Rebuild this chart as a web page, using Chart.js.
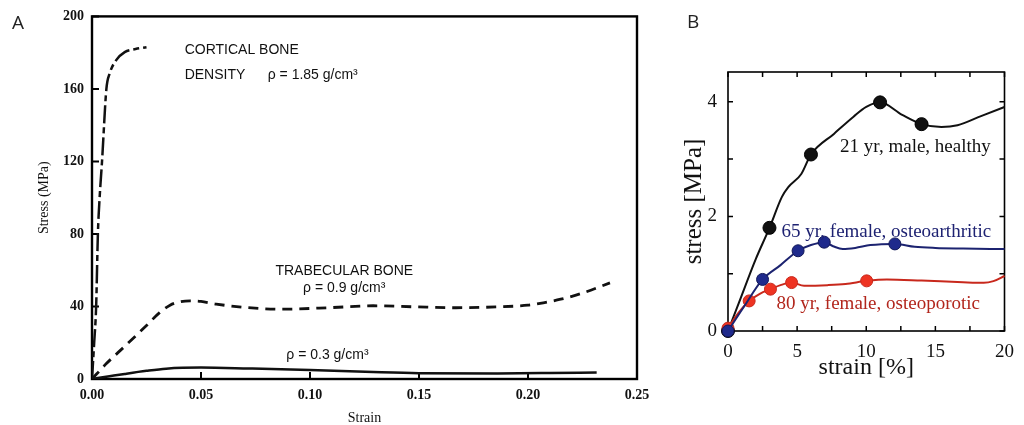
<!DOCTYPE html>
<html>
<head>
<meta charset="utf-8">
<script src="https://cdn.jsdelivr.net/npm/chart.js@4.4.1/dist/chart.umd.min.js"></script>
<style>
  body { margin: 0; background: #fff; width: 1024px; height: 425px; overflow: hidden; position: relative; }
  .panel { position: absolute; top: 0; height: 425px; }
  #wrapA { left: 0; width: 670px; }
  #wrapB { left: 670px; width: 354px; }
  .tag { position: absolute; font-family: "Open Sans", sans-serif; font-size: 19px; line-height: 19px; color: #222; }
</style>
</head>
<body>
<div id="wrapA" class="panel"><canvas id="chartA"></canvas></div>
<div id="wrapB" class="panel"><canvas id="chartB"></canvas></div>
<div class="tag" style="left:12px;top:13px">A</div>
<div class="tag" style="left:687px;top:12px">B</div>

<script>
// ---- Panel A: bone stress-strain (strain, MPa) ----
const corticalStrain = [0, 0.0010, 0.0019, 0.0027, 0.0035, 0.0046, 0.0066, 0.0081, 0.0112, 0.015, 0.020, 0.025];
const corticalStress = [0, 20, 40, 80, 100, 120, 160, 168.5, 176, 180.3, 182, 183];

const trab09Strain = [0, 0.0066, 0.015, 0.025, 0.031, 0.0358, 0.040, 0.045, 0.050, 0.057, 0.070, 0.087, 0.110, 0.129, 0.148, 0.167, 0.186, 0.200, 0.207, 0.215, 0.224, 0.2376];
const trab09Stress = [0, 8.5, 18, 29.5, 36.6, 40.7, 42.5, 43.1, 42.8, 41.3, 39.5, 38.5, 39.4, 40.4, 39.8, 39.3, 39.8, 40.7, 42, 44, 47, 53];

const trab03Strain = [0, 0.008, 0.015, 0.025, 0.034, 0.05, 0.072, 0.1, 0.129, 0.15, 0.186, 0.21, 0.2315];
const trab03Stress = [0, 1.5, 2.8, 4.5, 5.7, 6.3, 5.8, 5, 3.8, 3.2, 3.1, 3.3, 3.6];

// ---- Panel B: trabecular samples (strain %, MPa) ----
const healthyStrain = [0, 0.8, 2, 3, 3.9, 4.36, 5.3, 6, 7.66, 9.08, 10, 11, 12.6, 14, 15.44, 16.6, 18.3, 20];
const healthyStress = [0, 0.5, 1.25, 1.8, 2.34, 2.51, 2.74, 3.08, 3.44, 3.74, 3.91, 3.99, 3.77, 3.61, 3.56, 3.59, 3.75, 3.91];
const healthyDotStrain = [0, 3, 6, 11, 14];
const healthyDotStress = [0, 1.8, 3.08, 3.99, 3.61];

const arthriticStrain = [0, 1.2, 2.5, 3.8, 5.07, 6, 6.96, 7.6, 8.3, 9.2, 10.3, 12.07, 13.5, 15, 17, 20];
const arthriticStress = [0, 0.44, 0.9, 1.15, 1.40, 1.50, 1.55, 1.48, 1.43, 1.45, 1.50, 1.52, 1.47, 1.45, 1.44, 1.43];
const arthriticDotStrain = [0, 2.5, 5.07, 6.96, 12.07];
const arthriticDotStress = [0, 0.9, 1.40, 1.55, 1.52];

const porosisStrain = [0, 0.7, 1.53, 2.3, 3.07, 3.8, 4.6, 5.5, 7.2, 8.5, 10.03, 11.5, 14, 17, 18.5, 19.2, 20];
const porosisStress = [0.05, 0.3, 0.525, 0.65, 0.73, 0.8, 0.845, 0.79, 0.80, 0.82, 0.875, 0.9, 0.88, 0.85, 0.84, 0.87, 0.96];
const porosisDotStrain = [0, 1.53, 3.07, 4.6, 10.03];
const porosisDotStress = [0.05, 0.525, 0.73, 0.845, 0.875];

const xy = (xs, ys) => xs.map((x, i) => ({ x, y: ys[i] }));

const SERIF = '"Liberation Serif", "Times New Roman", serif';
const SANS = '"Liberation Sans", Arial, sans-serif';

// box frame plus inward tick marks
const frameTicks = {
  id: 'frameTicks',
  beforeDatasetsDraw(chart, args, opts) {
    const { ctx, chartArea: a } = chart;
    const xs = chart.scales.x, ys = chart.scales.y;
    ctx.save();
    ctx.strokeStyle = '#000';
    ctx.lineWidth = opts.tickWidth;
    ctx.beginPath();
    for (let v = xs.min; v <= xs.max + 1e-9; v += opts.xStep) {
      const px = xs.getPixelForValue(v);
      ctx.moveTo(px, a.bottom); ctx.lineTo(px, a.bottom - opts.len);
      if (opts.allSides) { ctx.moveTo(px, a.top); ctx.lineTo(px, a.top + opts.len); }
    }
    for (let v = ys.min; v <= ys.max + 1e-9; v += opts.yStep) {
      const py = ys.getPixelForValue(v);
      ctx.moveTo(a.left, py); ctx.lineTo(a.left + opts.len, py);
      if (opts.allSides) { ctx.moveTo(a.right, py); ctx.lineTo(a.right - opts.len, py); }
    }
    ctx.stroke();
    ctx.lineWidth = opts.frameWidth;
    ctx.strokeRect(a.left, a.top, a.right - a.left, a.bottom - a.top);
    ctx.restore();
  }
};

// text labels placed in data coordinates
const notes = {
  id: 'notes',
  afterDatasetsDraw(chart, args, opts) {
    const { ctx } = chart;
    const xs = chart.scales.x, ys = chart.scales.y;
    ctx.save();
    ctx.textBaseline = 'middle';
    opts.items.forEach(n => {
      ctx.font = n.font || opts.font;
      ctx.fillStyle = n.color || opts.color;
      ctx.textAlign = n.align || 'left';
      ctx.fillText(n.text, xs.getPixelForValue(n.x), ys.getPixelForValue(n.y));
    });
    ctx.restore();
  }
};

const noGrid = { display: false, drawTicks: false };

// ---------- Panel A ----------
new Chart(document.getElementById('chartA'), {
  type: 'scatter',
  data: {
    datasets: [
      {
        data: xy(corticalStrain, corticalStress),
        showLine: true, borderColor: '#111', borderWidth: 2.5,
        borderDash: [18, 4, 6, 4], pointRadius: 0, cubicInterpolationMode: 'monotone'
      },
      {
        data: xy(trab09Strain, trab09Stress),
        showLine: true, borderColor: '#111', borderWidth: 2.8,
        borderDash: [10, 7], pointRadius: 0, cubicInterpolationMode: 'monotone'
      },
      {
        data: xy(trab03Strain, trab03Stress),
        showLine: true, borderColor: '#111', borderWidth: 2.5,
        pointRadius: 0, cubicInterpolationMode: 'monotone'
      }
    ]
  },
  plugins: [frameTicks, notes],
  options: {
    responsive: true,
    maintainAspectRatio: false,
    animation: false,
    layout: { padding: { top: 12, right: 33, left: 0, bottom: 0 } },
    scales: {
      x: {
        type: 'linear', min: 0, max: 0.25,
        grid: noGrid, border: { display: false },
        ticks: {
          stepSize: 0.05, padding: 8, color: '#111', maxRotation: 0,
          font: { family: SERIF, size: 14, weight: 'bold' },
          callback: v => v.toFixed(2)
        },
        title: { display: true, text: 'Strain', color: '#111', padding: { top: 0, bottom: 0 },
                 font: { family: SERIF, size: 14, lineHeight: 1 } },
        afterFit: s => { s.height = 46; }
      },
      y: {
        min: 0, max: 200,
        grid: noGrid, border: { display: false },
        ticks: { stepSize: 40, padding: 8, color: '#111', font: { family: SERIF, size: 14, weight: 'bold' } },
        title: { display: true, text: 'Stress (MPa)', color: '#111', padding: { top: 37, bottom: 0 },
                 font: { family: SERIF, size: 14, lineHeight: 1 } },
        afterFit: s => { s.width = 92; }
      }
    },
    plugins: {
      legend: { display: false },
      tooltip: { enabled: false },
      frameTicks: { xStep: 0.05, yStep: 40, len: 7, tickWidth: 2, frameWidth: 2.4, allSides: false },
      notes: {
        font: '14px ' + SANS, color: '#111',
        items: [
          { text: 'CORTICAL BONE', x: 0.0425, y: 181.6 },
          { text: 'DENSITY', x: 0.0425, y: 167.4 },
          { text: 'ρ = 1.85 g/cm³', x: 0.0806, y: 167.4 },
          { text: 'TRABECULAR BONE', x: 0.1157, y: 59.6, align: 'center' },
          { text: 'ρ = 0.9 g/cm³', x: 0.1157, y: 49.9, align: 'center' },
          { text: 'ρ = 0.3 g/cm³', x: 0.108, y: 13, align: 'center' }
        ]
      }
    }
  }
});

// ---------- Panel B ----------
const BLACK = '#111111';
const NAVY = '#1c2370';
const NAVY_DOT = '#1f2a8c';
const RED = '#c8281c';
const RED_DOT = '#ee3322';

const lineSet = (xs, ys, color) => ({
  data: xy(xs, ys), showLine: true, borderColor: color, borderWidth: 2,
  pointRadius: 0, cubicInterpolationMode: 'monotone', clip: false
});
const dotSet = (xs, ys, fill, edge, r) => ({
  data: xy(xs, ys), showLine: false, pointRadius: r, pointBackgroundColor: fill,
  pointBorderColor: edge, pointBorderWidth: 1, clip: false
});

new Chart(document.getElementById('chartB'), {
  type: 'scatter',
  data: {
    datasets: [
      dotSet(arthriticDotStrain, arthriticDotStress, NAVY_DOT, '#121858', 6),
      lineSet(arthriticStrain, arthriticStress, NAVY),
      dotSet(porosisDotStrain, porosisDotStress, RED_DOT, '#c8281c', 6),
      lineSet(porosisStrain, porosisStress, RED),
      dotSet(healthyDotStrain, healthyDotStress, BLACK, '#000', 6.5),
      lineSet(healthyStrain, healthyStress, BLACK)
    ]
  },
  plugins: [frameTicks, notes],
  options: {
    responsive: true,
    maintainAspectRatio: false,
    animation: false,
    layout: { padding: { top: 72, right: 13, left: 0, bottom: 0 } },
    scales: {
      x: {
        type: 'linear', min: 0, max: 20,
        grid: noGrid, border: { display: false },
        ticks: { stepSize: 5, padding: 10, color: '#111', maxRotation: 0, font: { family: SERIF, size: 19 } },
        title: { display: true, text: 'strain [%]', color: '#111', padding: { top: 0, bottom: 45 },
                 font: { family: SERIF, size: 24, lineHeight: 1 } },
        afterFit: s => { s.height = 94; }
      },
      y: {
        min: 0, max: 4.52,
        grid: noGrid, border: { display: false },
        ticks: { stepSize: 2, includeBounds: false, padding: 11, color: '#111', font: { family: SERIF, size: 19 } },
        title: { display: true, text: 'stress [MPa]', color: '#111', padding: { top: 12, bottom: 0 },
                 font: { family: SERIF, size: 25, lineHeight: 1 } },
        afterFit: s => { s.width = 58; }
      }
    },
    plugins: {
      legend: { display: false },
      tooltip: { enabled: false },
      frameTicks: { xStep: 2.5, yStep: 1, len: 5, tickWidth: 1.5, frameWidth: 1.6, allSides: true },
      notes: {
        font: '19px ' + SERIF, color: BLACK,
        items: [
          { text: '21 yr, male, healthy', x: 8.11, y: 3.21 },
          { text: '65 yr, female, osteoarthritic', x: 3.87, y: 1.72, color: '#1e2272' },
          { text: '80 yr, female, osteoporotic', x: 3.51, y: 0.47, color: '#b2261c' }
        ]
      }
    }
  }
});
</script>
</body>
</html>
